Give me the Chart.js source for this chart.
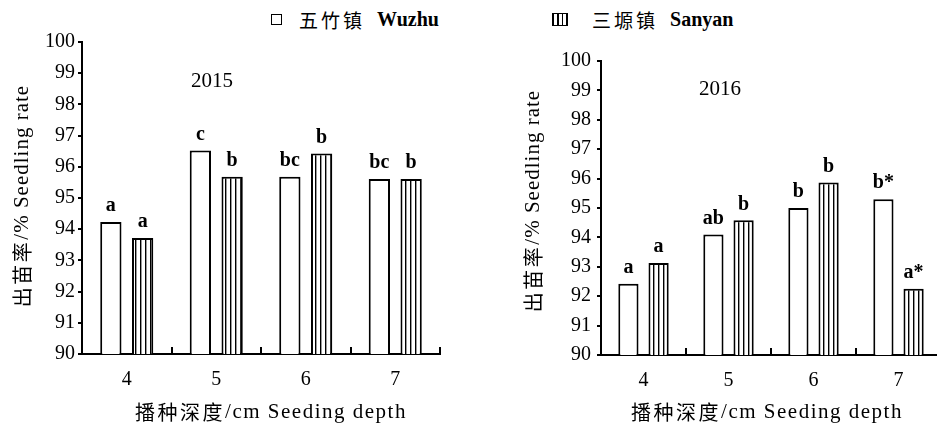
<!DOCTYPE html>
<html lang="zh-CN">
<head>
<meta charset="utf-8">
<script src="https://cdn.jsdelivr.net/npm/chart.js@4"></script>
<style>
    body { margin: 0; background: #fff; width: 937px; height: 430px; overflow: hidden; position: relative; }
    .box { position: absolute; top: 0; height: 430px; }
    #left { left: 0; width: 468px; }
    #right { left: 468px; width: 480px; }
    .legend { position: absolute; top: 5px; color: #000; white-space: nowrap; line-height: 26px; }
    .legend .sw { display: inline-block; vertical-align: middle; border: 1.5px solid #000; background: #fff; box-sizing: border-box; }
    .legend .cjk { font: 19px "Noto Sans CJK SC"; letter-spacing: 3px; vertical-align: middle; }
    .legend .lat { font: bold 20px "Liberation Serif", serif; vertical-align: middle; margin-left: 8px; }
</style>
</head>
<body>
<div class="legend" style="left:271px"><span class="sw" style="width:11px;height:11px;margin-right:17px"></span><span class="cjk">五竹镇</span> <span class="lat">Wuzhu</span></div>
<div class="legend" style="left:552px"><span class="sw" style="width:16px;height:13px;margin-right:24px;background:repeating-linear-gradient(90deg,#000 0 1.5px,#fff 1.5px 4.5px)"></span><span class="cjk">三塬镇</span> <span class="lat">Sanyan</span></div>
<div class="box" id="left"><canvas id="c2015"></canvas></div>
<div class="box" id="right"><canvas id="c2016"></canvas></div>
<script>
const depths = ['4', '5', '6', '7'];
const wuzhu2015 = [94.23, 96.52, 95.68, 95.61];
const sanyan2015 = [93.72, 95.68, 96.43, 95.61];
const wuzhu2016 = [92.42, 94.1, 95.0, 95.3];
const sanyan2016 = [93.13, 94.58, 95.87, 92.25];
const wuzhuLetters2015 = ['a', 'c', 'bc', 'bc'];
const sanyanLetters2015 = ['a', 'b', 'b', 'b'];
const wuzhuLetters2016 = ['a', 'ab', 'b', 'b*'];
const sanyanLetters2016 = ['a', 'b', 'b', 'a*'];
const yTicks = [90, 100, 1];
const yTitle = ['出苗率', '/% Seedling rate'];
const xTitle = ['播种深度', '/cm Seeding depth'];

const serif = '"Liberation Serif", serif';
const cjk = '"Noto Sans CJK SC", sans-serif';

function stripes() {
    var c = document.createElement('canvas');
    c.width = 5;
    c.height = 10;
    var g = c.getContext('2d');
    g.fillStyle = '#fff';
    g.fillRect(0, 0, 5, 10);
    g.fillStyle = '#000';
    g.fillRect(0, 0, 1.4, 10);
    return g.createPattern(c, 'repeat');
}

// chinese part and latin part need different fonts, so draw titles in pieces
function mixedText(ctx, parts, cx, cy, rot, latSpacing) {
    var fonts = ['20px ' + cjk, '21px ' + serif];
    var spacing = ['2.5px', latSpacing];
    var widths = parts.map((t, i) => {
        ctx.font = fonts[i];
        ctx.letterSpacing = spacing[i];
        return ctx.measureText(t).width;
    });
    var total = widths[0] + widths[1];
    ctx.save();
    ctx.translate(cx, cy);
    ctx.rotate(rot);
    ctx.textAlign = 'left';
    ctx.textBaseline = 'middle';
    var pos = -total / 2;
    parts.forEach((t, i) => {
        ctx.font = fonts[i];
        ctx.letterSpacing = spacing[i];
        ctx.fillText(t, pos, 0);
        pos += widths[i];
    });
    ctx.restore();
}

// letters over bars, inner tick marks on the x axis, year label, axis titles
const marks = {
    id: 'marks',
    afterDatasetsDraw(chart, args, opts) {
        const ctx = chart.ctx;
        const x = chart.scales.x;
        const area = chart.chartArea;
        ctx.save();
        ctx.fillStyle = '#000';
        ctx.textAlign = 'center';
        ctx.textBaseline = 'bottom';
        ctx.font = 'bold 20px ' + serif;
        chart.data.datasets.forEach((ds, i) => {
            chart.getDatasetMeta(i).data.forEach((bar, j) => {
                ctx.fillText(ds.letters[j], bar.x, bar.y - 6);
            });
        });
        ctx.strokeStyle = '#000';
        ctx.lineWidth = 2;
        for (let i = 1; i <= depths.length; i++) {
            let px = i < depths.length ? (x.getPixelForValue(i - 1) + x.getPixelForValue(i)) / 2 : area.right;
            px = Math.round(px);
            ctx.beginPath();
            ctx.moveTo(px, area.bottom);
            ctx.lineTo(px, area.bottom - 7);
            ctx.stroke();
        }
        ctx.font = '21px ' + serif;
        ctx.textBaseline = 'middle';
        ctx.fillText(opts.year, area.left + opts.yearX * area.width, chart.scales.y.getPixelForValue(opts.yearY));
        ctx.restore();

        ctx.save();
        ctx.fillStyle = '#000';
        mixedText(ctx, yTitle, opts.yTitleX, opts.yTitleY, -Math.PI / 2, '1px');
        mixedText(ctx, xTitle, opts.xTitleX, 412, 0, '1.5px');
        ctx.restore();
    }
};

function makeChart(id, year, wuzhu, sanyan, wl, sl, pad, yWidth, yPad, extra) {
    var ctx = document.getElementById(id).getContext('2d');
    return new Chart(ctx, {
        type: 'bar',
        data: {
            labels: depths,
            datasets: [{
                label: 'Wuzhu',
                data: wuzhu,
                letters: wl,
                backgroundColor: '#fff',
                borderColor: '#000',
                borderWidth: 2,
                barPercentage: 0.67,
                categoryPercentage: 0.71
            }, {
                label: 'Sanyan',
                data: sanyan,
                letters: sl,
                backgroundColor: stripes(),
                borderColor: '#000',
                borderWidth: 2,
                barPercentage: 0.67,
                categoryPercentage: 0.71
            }]
        },
        plugins: [marks],
        options: {
            responsive: true,
            maintainAspectRatio: false,
            animation: false,
            layout: { padding: pad },
            plugins: {
                legend: { display: false },
                tooltip: { enabled: false },
                marks: Object.assign({ year: year }, extra)
            },
            scales: {
                x: {
                    grid: { display: false, drawTicks: false },
                    border: { display: true, color: '#000', width: 2 },
                    ticks: { color: '#000', padding: 14, font: { family: serif, size: 20 } },
                    afterFit: (s) => { s.height = pad.xHeight; }
                },
                y: {
                    min: yTicks[0],
                    max: yTicks[1],
                    grid: { drawOnChartArea: false, drawTicks: true, tickLength: 4, color: '#000', lineWidth: 2 },
                    border: { display: true, color: '#000', width: 2 },
                    ticks: { stepSize: yTicks[2], color: '#000', padding: yPad, font: { family: serif, size: 20 } },
                    afterFit: (s) => { s.width = yWidth; }
                }
            }
        }
    });
}

makeChart('c2015', '2015', wuzhu2015, sanyan2015, wuzhuLetters2015, sanyanLetters2015,
    { top: 42, right: 28, bottom: 0, left: 0, xHeight: 76 }, 82, 3,
    { yearX: 0.363, yearY: 98.75, yTitleX: 22, yTitleY: 196, xTitleX: 271 });
makeChart('c2016', '2016', wuzhu2016, sanyan2016, wuzhuLetters2016, sanyanLetters2016,
    { top: 61, right: 7, bottom: 0, left: 0, xHeight: 75 }, 133, 6,
    { yearX: 0.35, yearY: 99.04, yTitleX: 65, yTitleY: 201, xTitleX: 767 - 468 });
</script>
</body>
</html>
